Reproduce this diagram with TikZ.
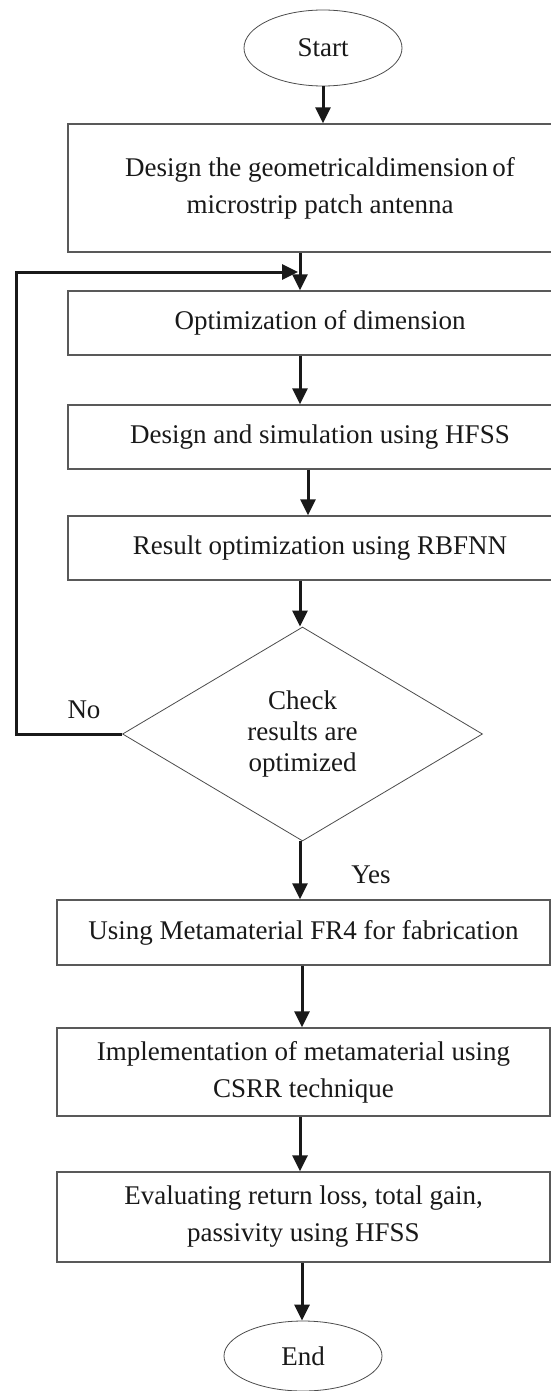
\documentclass[tikz,border=0pt]{standalone}
\usepackage{fontspec}
\setmainfont{Liberation Serif}
\usetikzlibrary{shapes.geometric,arrows.meta}
\begin{document}
\begin{tikzpicture}[x=1pt,y=-1pt,
  txt/.style={font=\fontsize{27}{37}\selectfont, text=black!90},
  stepbox/.style={draw=black!65, line width=1.3pt, rectangle, inner sep=0pt, align=center, txt},
  term/.style={draw=black!70, line width=0.8pt, ellipse, inner sep=0pt, txt},
  decision/.style={draw=black!70, line width=0.8pt, diamond, inner sep=0pt, aspect=1.68, align=center, text=black!90, font=\fontsize{27}{31}\selectfont},
  arr/.style={draw=black!90, line width=3pt, -{Triangle[length=16pt,width=15pt]}},
  lbl/.style={txt, inner sep=0pt}
]
\clip (0,0) rectangle (551,1391);
\fill[white] (0,0) rectangle (551,1391);

\node[term, minimum width=158pt, minimum height=76pt] (start) at (323,48) {Start};
\node[stepbox, minimum width=504pt, minimum height=128pt] (b1) at (320,188)
  {Design the geometricaldimension\,of\\microstrip patch antenna};
\node[stepbox, minimum width=504pt, minimum height=64pt] (b2) at (320,323) {Optimization of dimension};
\node[stepbox, minimum width=504pt, minimum height=64pt] (b3) at (320,437) {Design and simulation using HFSS};
\node[stepbox, minimum width=504pt, minimum height=64pt] (b4) at (320,548) {Result optimization using RBFNN};
\node[decision, minimum width=360pt, minimum height=214pt] (dia) at (302.5,734) {Check\\results are\\optimized};
\node[stepbox, minimum width=493pt, minimum height=65pt] (b5) at (303.5,932.5) {Using Metamaterial FR4 for fabrication};
\node[stepbox, minimum width=493pt, minimum height=88pt] (b6) at (303.5,1072) {Implementation of metamaterial using\\CSRR technique};
\node[stepbox, minimum width=493pt, minimum height=90pt] (b7) at (303.5,1217) {Evaluating return loss, total gain,\\passivity using HFSS};
\node[term, minimum width=158pt, minimum height=70pt] (end) at (303,1356) {End};

\node[lbl] (no) at (84,710) {No};
\node[lbl] (yes) at (371,875) {Yes};

\coordinate (tx) at (300,0);
\coordinate (tx2) at (308,0);
\coordinate (tx3) at (302,0);
\coordinate (lc) at (16,272);
\coordinate (lp) at (298,272);

\draw[arr] (start.south) -- (start.south |- b1.north);
\draw[arr] (b1.south -| tx) -- (b2.north -| tx);
\draw[arr] (b2.south -| tx) -- (b3.north -| tx);
\draw[arr] (b3.south -| tx2) -- (b4.north -| tx2);
\draw[arr] (b4.south -| tx) -- (dia.north -| tx);
\draw[arr] (dia.south -| tx) -- (b5.north -| tx);
\draw[arr] (b5.south -| tx3) -- (b6.north -| tx3);
\draw[arr] (b6.south -| tx) -- (b7.north -| tx);
\draw[arr] (b7.south -| tx3) -- (end.north -| tx3);
\draw[arr] (dia.west) -| (lc) -- (lp);
\end{tikzpicture}
\end{document}
